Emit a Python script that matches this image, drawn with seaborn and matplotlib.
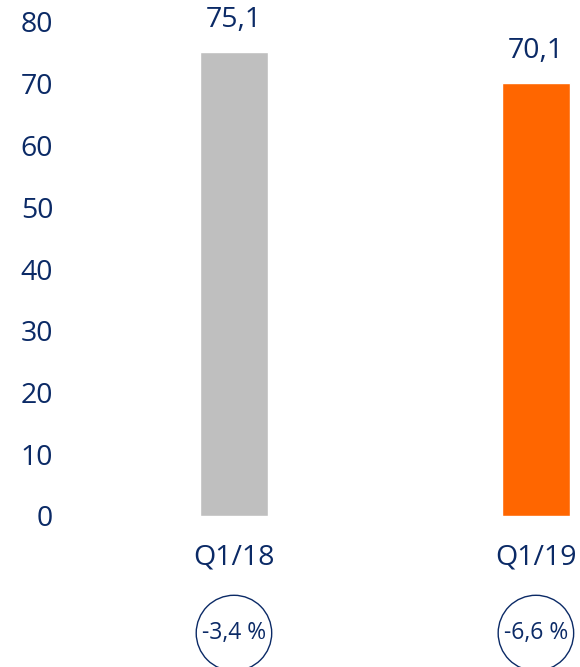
import matplotlib
matplotlib.use("Agg")
import matplotlib.pyplot as plt
from matplotlib.patches import Ellipse
import matplotlib.transforms as mtransforms
import seaborn as sns
import pandas as pd

# Chart data
quarters = ["Q1/18", "Q1/19"]
values = [75.1, 70.1]
value_labels = ["75,1", "70,1"]
changes = ["-3,4 %", "-6,6 %"]
bar_colors = ["#BFBFBF", "#FF6600"]
y_ticks = [0, 10, 20, 30, 40, 50, 60, 70, 80]

navy = "#0B2A66"

sns.set_style("white")
plt.rcParams["font.family"] = ["Open Sans", "DejaVu Sans"]

df = pd.DataFrame({"quarter": quarters, "value": values})

fig = plt.figure(figsize=(5.8, 6.67), dpi=100)
ax = fig.add_axes([70 / 580, 151 / 667, 510 / 580, 494 / 667])

sns.barplot(data=df, x="quarter", y="value", hue="quarter",
            palette=bar_colors, width=0.225, legend=False, ax=ax,
            saturation=1)

ax.set_xlim(-0.543, 1.146)
ax.set_ylim(0, 80)
ax.set_yticks(y_ticks)
ax.tick_params(axis="y", length=0, pad=12, labelsize=20.5, labelcolor=navy)
ax.tick_params(axis="x", length=0, pad=20, labelsize=20.5, labelcolor=navy)
ax.set_xlabel("")
ax.set_ylabel("")
sns.despine(ax=ax, left=True, bottom=True)

# Value labels above bars
for i, (v, lab) in enumerate(zip(values, value_labels)):
    ax.annotate(lab, (i, v), xytext=(0, 13), textcoords="offset points",
                ha="center", va="bottom", fontsize=20.5, color=navy,
                annotation_clip=False)

# Circled change labels below the quarters
trans = mtransforms.blended_transform_factory(ax.transData, ax.transAxes)
for i, txt in enumerate(changes):
    circ = Ellipse((i, -0.237), width=0.25, height=0.153, transform=trans,
                   fill=False, edgecolor=navy, linewidth=1.0, clip_on=False)
    ax.add_patch(circ)
    ax.text(i, -0.237, txt, transform=trans, ha="center", va="center",
            fontsize=16.5, color=navy)

fig.savefig("out.png", dpi=100)
